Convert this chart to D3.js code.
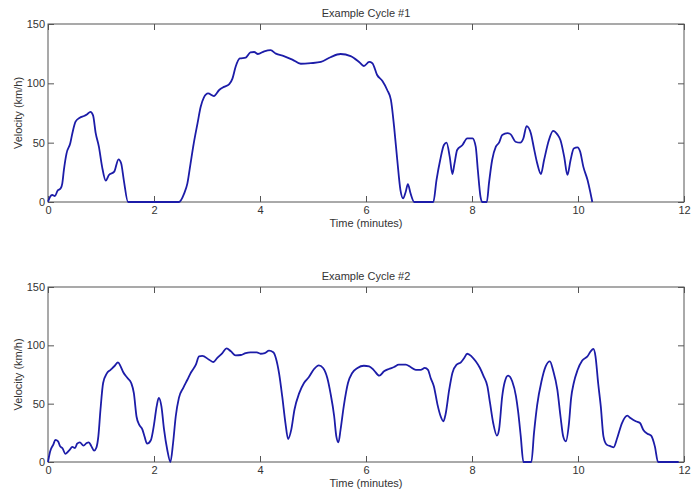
<!DOCTYPE html>
<html>
<head>
<meta charset="utf-8">
<script src="https://cdn.jsdelivr.net/npm/d3@7/dist/d3.min.js"></script>
<style>
  html, body { margin: 0; padding: 0; background: #fff; }
  svg { display: block; }
  text { font-family: "Liberation Sans", Arial, Helvetica, sans-serif; fill: #333; }
</style>
</head>
<body>
<svg id="chart" width="691" height="491"></svg>
<script>
// ---- Data (time in minutes, velocity in km/h) ----
const cycle1Time = [0,0.04,0.08,0.13,0.18,0.24,0.27,0.30,0.35,0.42,0.46,0.52,0.60,0.68,0.74,0.80,0.85,0.90,0.96,1.02,1.09,1.15,1.25,1.33,1.38,1.43,1.51,2.47,2.57,2.63,2.69,2.75,2.82,2.88,2.94,3.02,3.13,3.23,3.32,3.42,3.48,3.54,3.62,3.73,3.82,3.89,3.96,4.08,4.20,4.30,4.45,4.61,4.77,4.96,5.15,5.33,5.52,5.71,5.87,5.96,6.06,6.12,6.21,6.31,6.40,6.47,6.53,6.59,6.65,6.70,6.75,6.79,6.84,6.91,7.27,7.33,7.40,7.47,7.52,7.58,7.63,7.67,7.72,7.82,7.91,8.01,8.07,8.11,8.16,8.19,8.28,8.32,8.38,8.45,8.51,8.57,8.67,8.73,8.82,8.91,8.97,9.03,9.11,9.17,9.23,9.30,9.36,9.45,9.53,9.61,9.67,9.74,9.80,9.86,9.92,9.99,10.04,10.10,10.18,10.23,10.27];
const cycle1Speed = [0.3,4.5,5.9,5,9.5,11.5,15.7,27,41,49.5,58,67.7,71,72.5,74,76,73,58,46.6,29.8,18,22.8,25.6,36,32.6,18.5,0,0,7.3,15.7,32.6,49.4,66,80,88,91.5,89.3,94.4,97,99.4,104,114,121,121.6,126,126.4,124.7,127,128,125,123,120,116.5,117,118,122,124.7,123,118,114.6,118,117,107,102,94.4,86,63.5,35.4,10,3,8.7,15,7.3,0,0,18.5,35.4,48,50,38,23.6,32.6,43.8,48,53.7,53.7,46.6,27,4.5,0,0,15.7,35.4,46.6,50,56.5,58,57,50.8,50,53.7,64,58,45,32.6,23.6,35.4,52,60,57,52,38,22.8,35.4,45,46,42.5,29.8,18.5,8.7,0];

const cycle2Time = [0,0.04,0.10,0.14,0.19,0.23,0.27,0.33,0.40,0.46,0.51,0.55,0.60,0.67,0.73,0.77,0.82,0.87,0.91,0.95,0.99,1.04,1.11,1.18,1.26,1.32,1.37,1.42,1.50,1.57,1.62,1.67,1.72,1.78,1.82,1.87,1.94,2.00,2.05,2.09,2.14,2.19,2.25,2.31,2.36,2.41,2.47,2.55,2.63,2.70,2.79,2.85,2.91,3.04,3.12,3.19,3.29,3.37,3.45,3.54,3.64,3.73,3.82,3.94,4.01,4.09,4.17,4.25,4.30,4.36,4.42,4.48,4.53,4.59,4.65,4.74,4.83,4.92,5.02,5.11,5.19,5.27,5.33,5.40,5.44,5.48,5.52,5.58,5.66,5.74,5.84,5.96,6.06,6.15,6.25,6.34,6.43,6.53,6.62,6.75,6.84,6.94,7.03,7.11,7.17,7.22,7.28,7.35,7.41,7.46,7.50,7.57,7.63,7.71,7.79,7.85,7.91,7.99,8.07,8.15,8.22,8.29,8.34,8.40,8.47,8.51,8.57,8.62,8.68,8.76,8.83,8.87,8.92,8.97,9.12,9.17,9.23,9.31,9.39,9.47,9.53,9.61,9.67,9.72,9.77,9.83,9.87,9.92,9.99,10.08,10.18,10.24,10.29,10.33,10.38,10.43,10.48,10.54,10.62,10.67,10.74,10.83,10.93,10.99,11.09,11.17,11.23,11.31,11.38,11.45,11.51,11.90];
const cycle2Speed = [0,9,14.9,19,17.7,13.4,12,7,10,12.9,12,15.7,16.9,14,16.3,16.9,13.4,9.7,12,22,44.8,67.7,76,79,82.5,85.4,82,76.9,72,67.7,59,39,32,28,22,15.7,18.6,32,47.7,55,47.7,27.7,10.5,0,16.3,39,55,63.4,70.5,76.9,83.4,90.6,91,87.7,85.7,89,93.4,97.4,94.9,91.4,91.7,93.4,94,94,92.8,93.4,95.4,94,89,76,56,33.4,19.7,27.7,44.8,59,67.7,72.6,79.7,82.9,80.6,72,59,39,22,16.9,27.7,47.7,67.7,76.3,80.6,82.5,82,78.6,74,77.7,79.7,81.4,83.4,83.4,81.4,79,79,80.6,79,72,65,49,39,34.9,40.6,62,76.3,83.4,85.4,89,92.8,90.6,86.3,80.6,73.4,65,50.6,33.4,22.6,27.7,56.3,69,74,69,56.3,43.4,22,0,0,24.9,49,69,82,86.3,78.6,62,39,22,17.7,33.4,54.8,67.7,78.6,87,90.6,94.9,96.9,90.6,67.7,47.7,22,14.9,13.4,12.6,20.6,33.4,39.7,37.7,34.9,33.4,27.7,24.3,22.6,13.4,0,0];

const titles = ["Example Cycle #1", "Example Cycle #2"];
const xTicks = [0, 2, 4, 6, 8, 10, 12];
const yTicks = [0, 50, 100, 150];
const xLabel = "Time (minutes)";
const yLabel = "Velocity (km/h)";

// ---- Layout ----
const svg = d3.select("#chart");
const panels = [
  { top: 24, bottom: 202, t: cycle1Time, v: cycle1Speed, title: titles[0] },
  { top: 287, bottom: 462, t: cycle2Time, v: cycle2Speed, title: titles[1] }
];
const left = 48, right = 684;
const axisColor = "#555";
const lineColor = "#1c1ca8";

panels.forEach(p => {
  const x = d3.scaleLinear().domain([0, 12]).range([left, right]);
  const y = d3.scaleLinear().domain([0, 150]).range([p.bottom, p.top]);
  const g = svg.append("g");

  // bottom axis
  const gb = g.append("g").attr("transform", `translate(0,${p.bottom})`)
    .call(d3.axisBottom(x).tickValues(xTicks).tickSizeInner(-6).tickSizeOuter(0).tickPadding(4).tickFormat(d3.format("d")));
  // top axis ticks
  const gt = g.append("g").attr("transform", `translate(0,${p.top})`)
    .call(d3.axisTop(x).tickValues(xTicks).tickSizeInner(-6).tickSizeOuter(0).tickFormat(""));
  // left axis
  const gl = g.append("g").attr("transform", `translate(${left},0)`)
    .call(d3.axisLeft(y).tickValues(yTicks).tickSizeInner(-6).tickSizeOuter(0).tickPadding(3).tickFormat(d3.format("d")));
  // right axis ticks
  const gr = g.append("g").attr("transform", `translate(${right},0)`)
    .call(d3.axisRight(y).tickValues(yTicks).tickSizeInner(-6).tickSizeOuter(0).tickFormat(""));

  [gb, gt, gl, gr].forEach(a => {
    a.select(".domain").remove();
    a.selectAll(".tick line").attr("stroke", axisColor);
    a.selectAll("text").style("font-size", "11px").attr("fill", "#333")
      .style("font-family", '"Liberation Sans", Arial, sans-serif');
  });

  // box
  g.append("rect")
    .attr("x", left).attr("y", p.top)
    .attr("width", right - left).attr("height", p.bottom - p.top)
    .attr("fill", "none").attr("stroke", axisColor).attr("stroke-width", 1);

  // line
  const data = p.t.map((t, i) => [t, p.v[i]]);
  const line = d3.line().x(d => x(d[0])).y(d => y(d[1])).curve(d3.curveMonotoneX);
  g.append("path").datum(data)
    .attr("d", line)
    .attr("fill", "none")
    .attr("stroke", lineColor)
    .attr("stroke-width", 1.8)
    .attr("stroke-linejoin", "round");

  // title
  g.append("text")
    .attr("x", (left + right) / 2).attr("y", p.top - 7)
    .attr("text-anchor", "middle")
    .style("font-size", "11px")
    .text(p.title);

  // x label
  g.append("text")
    .attr("x", (left + right) / 2).attr("y", p.bottom + 25)
    .attr("text-anchor", "middle")
    .style("font-size", "11px")
    .text(xLabel);

  // y label
  g.append("text")
    .attr("transform", `translate(22,${(p.top + p.bottom) / 2}) rotate(-90)`)
    .attr("text-anchor", "middle")
    .style("font-size", "11px")
    .text(yLabel);
});
</script>
</body>
</html>
